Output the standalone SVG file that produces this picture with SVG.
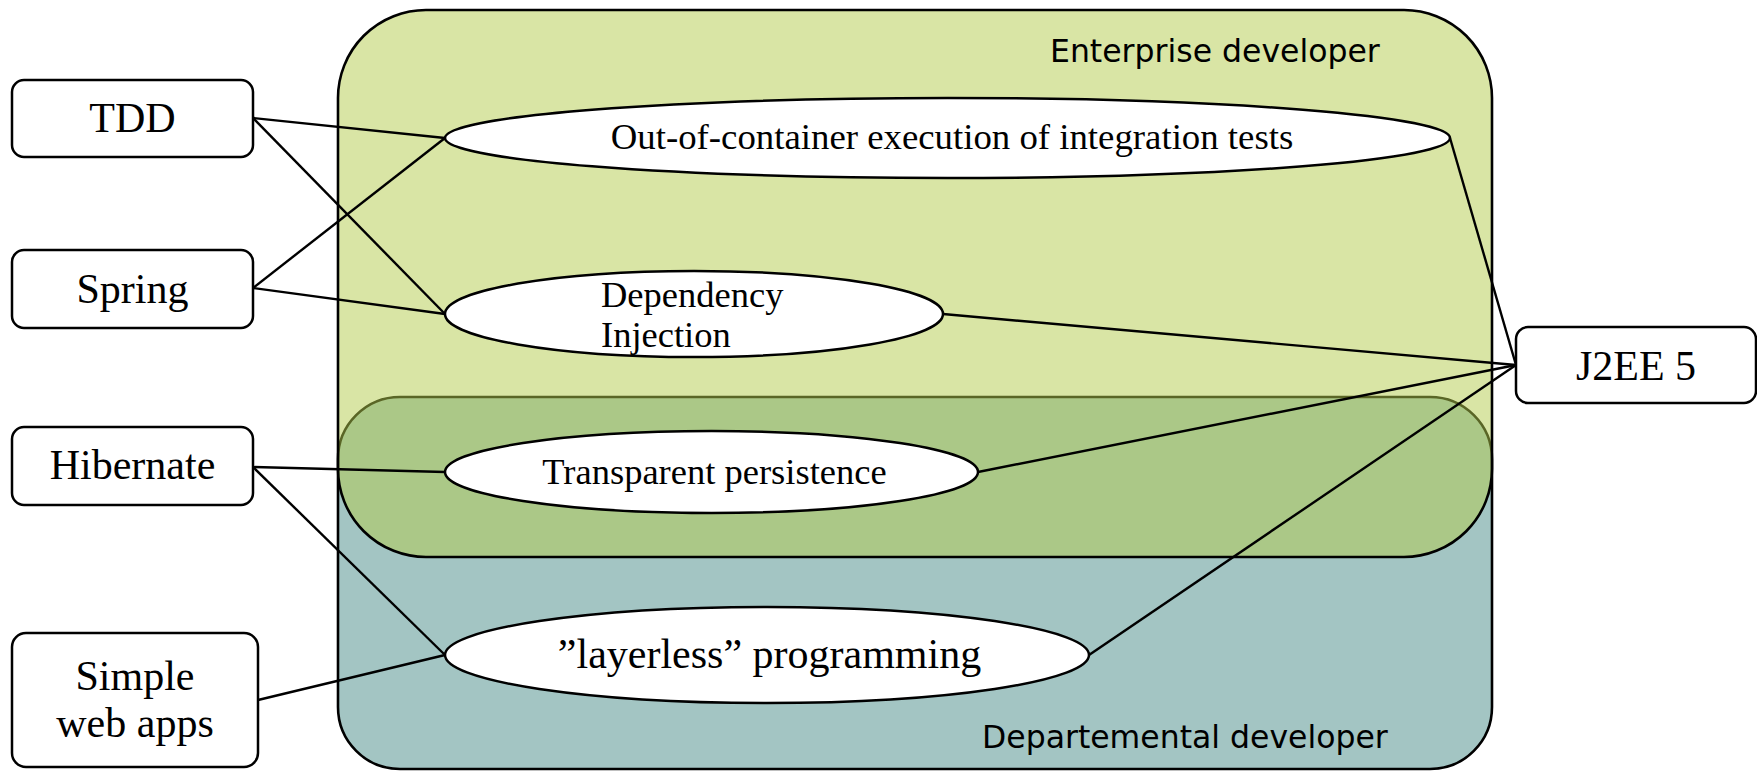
<svg xmlns="http://www.w3.org/2000/svg" width="1757" height="771" viewBox="0 0 1757 771">
<style>
.box{fill:#fff;stroke:#000;stroke-width:2.5}
.ell{fill:#fff;stroke:#000;stroke-width:2.5}
.lbl{font-family:"Liberation Serif","Times New Roman",serif;fill:#000}
.grp{font-family:"DejaVu Sans",Verdana,sans-serif;font-size:31.5px;fill:#000}
.con line{stroke:#000;stroke-width:2.4}
</style>
<rect width="1757" height="771" fill="#fff"/>
<g id="departemental">
<rect x="338" y="397" width="1154" height="372" rx="62" ry="62" fill="#A3C5C3" stroke="#000" stroke-width="2.6"/>
</g>
<g id="enterprise">
<rect x="338" y="10" width="1154" height="547" rx="88" ry="88" fill="#B3CB4B" fill-opacity="0.5" stroke="#000" stroke-width="2.6"/>
<text class="grp" x="1050" y="62">Enterprise developer</text>
</g>
<g id="departemental-label">
<text class="grp" x="982" y="748">Departemental developer</text>
</g>
<g id="connectors" class="con">
<line x1="253" y1="118" x2="445" y2="138"/>
<line x1="253" y1="118" x2="445" y2="314"/>
<line x1="253" y1="288" x2="445" y2="138"/>
<line x1="253" y1="288" x2="445" y2="314"/>
<line x1="253" y1="467" x2="445" y2="472"/>
<line x1="253" y1="467" x2="445" y2="655"/>
<line x1="258" y1="700" x2="445" y2="655"/>
<line x1="1450" y1="138" x2="1516" y2="365"/>
<line x1="943" y1="314" x2="1516" y2="365"/>
<line x1="978" y1="472" x2="1516" y2="365"/>
<line x1="1089" y1="655" x2="1516" y2="365"/>
</g>
<g id="tdd">
<rect class="box" x="12" y="80" width="241" height="77" rx="12"/>
<text class="lbl" x="132.5" y="132" font-size="42" text-anchor="middle">TDD</text>
</g>
<g id="spring">
<rect class="box" x="12" y="250" width="241" height="78" rx="12"/>
<text class="lbl" x="132.5" y="303" font-size="42" text-anchor="middle">Spring</text>
</g>
<g id="hibernate">
<rect class="box" x="12" y="427" width="241" height="78" rx="12"/>
<text class="lbl" x="132.5" y="479" font-size="42" text-anchor="middle">Hibernate</text>
</g>
<g id="simple-web-apps">
<rect class="box" x="12" y="633" width="246" height="134" rx="14"/>
<text class="lbl" x="135" y="690" font-size="42" text-anchor="middle">Simple</text>
<text class="lbl" x="135" y="737" font-size="42" text-anchor="middle">web apps</text>
</g>
<g id="j2ee5">
<rect class="box" x="1516" y="327" width="240" height="76" rx="12"/>
<text class="lbl" x="1636" y="380" font-size="42" text-anchor="middle">J2EE 5</text>
</g>
<g id="out-of-container">
<ellipse class="ell" cx="947.5" cy="138" rx="502.5" ry="40"/>
<text class="lbl" x="952" y="149" font-size="36.8" text-anchor="middle">Out-of-container execution of integration tests</text>
</g>
<g id="dependency-injection">
<ellipse class="ell" cx="694" cy="314" rx="249" ry="43"/>
<text class="lbl" x="601" y="307" font-size="36.5">Dependency</text>
<text class="lbl" x="601" y="347" font-size="36.5">Injection</text>
</g>
<g id="transparent-persistence">
<ellipse class="ell" cx="711.5" cy="472" rx="266.5" ry="41"/>
<text class="lbl" x="714.5" y="484" font-size="36.5" text-anchor="middle">Transparent persistence</text>
</g>
<g id="layerless">
<ellipse class="ell" cx="767" cy="655" rx="322" ry="48"/>
<text class="lbl" x="769.5" y="668" font-size="42" text-anchor="middle">”layerless” programming</text>
</g>
</svg>
